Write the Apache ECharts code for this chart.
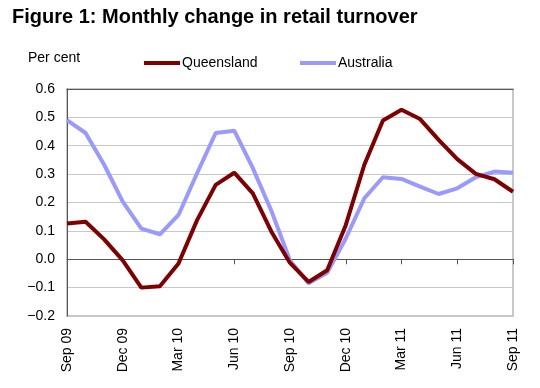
<!DOCTYPE html>
<html>
<head>
<meta charset="utf-8">
<script src="https://cdn.jsdelivr.net/npm/echarts@6/dist/echarts.min.js"></script>
<style>
html,body{margin:0;padding:0;background:#fff;}
#chart{width:540px;height:388px;}
</style>
</head>
<body>
<div id="chart"></div>
<script>
var months = ['Sep 09','Oct 09','Nov 09','Dec 09','Jan 10','Feb 10','Mar 10','Apr 10','May 10','Jun 10','Jul 10','Aug 10',
              'Sep 10','Oct 10','Nov 10','Dec 10','Jan 11','Feb 11','Mar 11','Apr 11','May 11','Jun 11','Jul 11','Aug 11','Sep 11'];
var queensland = [0.126,0.132,0.070,-0.004,-0.100,-0.095,-0.015,0.138,0.262,0.305,0.232,0.097,
                  -0.013,-0.080,-0.039,0.120,0.333,0.489,0.527,0.494,0.421,0.353,0.301,0.282,0.238];
var australia = [0.490,0.445,0.333,0.203,0.108,0.088,0.156,0.303,0.445,0.453,0.321,0.170,
                 -0.004,-0.085,-0.048,0.073,0.215,0.289,0.283,0.256,0.230,0.250,0.289,0.309,0.305];
var yTicks = {min:-0.2, max:0.6, step:0.1};

var chart = echarts.init(document.getElementById('chart'), null, {renderer:'canvas'});
var font = 'Liberation Sans, Arial, Helvetica, sans-serif';
chart.setOption({
  animation:false,
  backgroundColor:'#fff',
  textStyle:{fontFamily:font},
  title:{text:'Figure 1: Monthly change in retail turnover', left:7, top:2,
         textStyle:{fontSize:20, fontWeight:'bold', color:'#000', fontFamily:font}},
  graphic:[{type:'text', left:28, top:51, style:{text:'Per cent', fontSize:14, fill:'#000', fontFamily:font}}],
  legend:[
    {data:['Queensland'], left:139, top:51, icon:'rect', itemWidth:36, itemHeight:4, itemGap:0,
     textStyle:{fontSize:14, color:'#000', padding:[0,0,0,-3]}},
    {data:['Australia'], left:295, top:51, icon:'rect', itemWidth:36, itemHeight:4, itemGap:0,
     textStyle:{fontSize:14, color:'#000', padding:[0,0,0,-3]}}
  ],
  grid:{left:67, right:27, top:89, bottom:72, show:true, borderColor:'#c8c8c8', borderWidth:2},
  xAxis:[{
    type:'category', data:months, boundaryGap:false,
    axisLine:{lineStyle:{color:'#555', width:1}},
    axisTick:{interval:2, length:5, lineStyle:{color:'#555'}},
    axisLabel:{interval:2, rotate:90, fontSize:14, color:'#000', margin:12, fontFamily:font},
    splitLine:{show:false}
  },{
    type:'category', data:months, boundaryGap:false, position:'top',
    axisLine:{lineStyle:{color:'#555', width:1}}, axisTick:{show:false}, axisLabel:{show:false}
  }],
  yAxis:{
    type:'value', min:yTicks.min, max:yTicks.max, interval:yTicks.step,
    axisLine:{show:true, lineStyle:{color:'#555'}},
    axisTick:{show:false},
    axisLabel:{fontSize:14, color:'#000', margin:12, fontFamily:font,
      formatter:function(v){var s=Math.abs(v).toFixed(1); return (v< -1e-9?'\u2212':'')+s;}},
    splitLine:{lineStyle:{color:'#c8c8c8', width:1}}
  },
  series:[
    {name:'Queensland', type:'line', data:queensland, symbol:'none', color:'#800000',
     lineStyle:{width:4, color:'#800000'}, z:3},
    {name:'Australia', type:'line', data:australia, symbol:'none', color:'#9999ff',
     lineStyle:{width:4, color:'#9999ff'}, z:2}
  ]
});
</script>
</body>
</html>
